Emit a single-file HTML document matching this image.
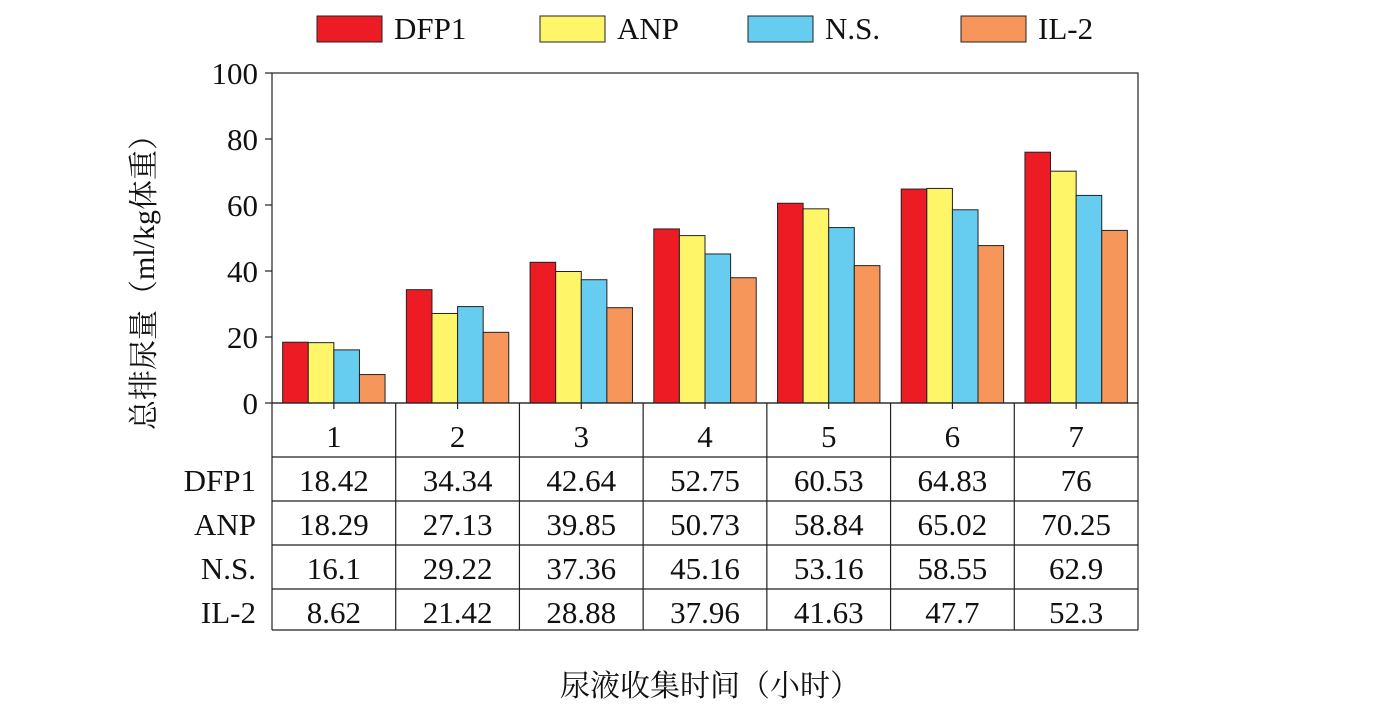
<!DOCTYPE html>
<html><head><meta charset="utf-8"><style>
body{margin:0;background:#fff;}
svg{display:block;font-family:"Liberation Serif","Noto Serif CJK SC",serif;}
</style></head><body>
<svg id="c" width="1396" height="724"></svg>
<script>
const categories=["1","2","3","4","5","6","7"];
const seriesNames=["DFP1","ANP","N.S.","IL-2"];
const dfp1=[18.42,34.34,42.64,52.75,60.53,64.83,76];
const anp=[18.29,27.13,39.85,50.73,58.84,65.02,70.25];
const ns=[16.1,29.22,37.36,45.16,53.16,58.55,62.9];
const il2=[8.62,21.42,28.88,37.96,41.63,47.7,52.3];
const yTicks=[0,20,40,60,80,100];
const colors=["#ed1c24","#fff568","#66ccf0","#f7965a"];
const series=[dfp1,anp,ns,il2];
const svg=document.getElementById('c');
const NS='http://www.w3.org/2000/svg';
function mk(t,a,p){const e=document.createElementNS(NS,t);for(const k in a)e.setAttribute(k,a[k]);(p||svg).appendChild(e);return e;}
const X0=272,X1=1138,Y0=403,Y1=73;
const y=v=>Y0-(v/100)*(Y0-Y1);
const gw=(X1-X0)/categories.length;
const gx=i=>X0+i*gw;
const bw=25.6,pad=(gw-4*bw)/2;
// bars
categories.forEach((c,i)=>{series.forEach((s,j)=>{
 const r=mk('rect',{x:gx(i)+pad+j*bw,y:y(s[i]),width:bw,height:Y0-y(s[i]),fill:colors[j],stroke:'#222','stroke-width':1});
 
 
});});
// frame
const fr=mk('rect',{x:X0,y:Y1,width:X1-X0,height:Y0-Y1,fill:'none',stroke:'#222','stroke-width':1.2});

// y ticks
yTicks.forEach(t=>{
 mk('line',{x1:X0-7,x2:X0,y1:y(t),y2:y(t),stroke:'#222','stroke-width':1.2});
 const tx=mk('text',{x:258,y:y(t)+11,'text-anchor':'end','font-size':31,fill:'#111'});
 tx.textContent=t;
 
});
// table
const rows=[403,457,501,545,589,630];
for(let i=0;i<=categories.length;i++){mk('line',{x1:gx(i),x2:gx(i),y1:403,y2:630,stroke:'#222','stroke-width':1.2});}
rows.forEach(r=>mk('line',{x1:X0,x2:X1,y1:r,y2:r,stroke:'#222','stroke-width':1.2}));
categories.forEach((c,i)=>{
 mk('line',{x1:gx(i)+gw/2,x2:gx(i)+gw/2,y1:403,y2:409,stroke:'#222','stroke-width':1.2});
 const t=mk('text',{x:gx(i)+gw/2,y:447,'text-anchor':'middle','font-size':31,fill:'#111'});t.textContent=c;
 
 series.forEach((s,j)=>{
  const v=mk('text',{x:gx(i)+gw/2,y:rows[j+1]+34,'text-anchor':'middle','font-size':31,fill:'#111'});v.textContent=s[i];
  
 });
});
seriesNames.forEach((n,j)=>{
 const t=mk('text',{x:256,y:rows[j+1]+34,'text-anchor':'end','font-size':31,fill:'#111'});t.textContent=n;
 
});
// legend
const lx=[317,540,748,961];
seriesNames.forEach((n,j)=>{
 const r=mk('rect',{x:lx[j],y:16,width:65,height:26,fill:colors[j],stroke:'#222','stroke-width':1});
 
 const t=mk('text',{x:lx[j]+77,y:39,'font-size':31,fill:'#111'});t.textContent=n;
 
});
// titles
const yt=mk('text',{x:0,y:0,'text-anchor':'middle','font-size':30,fill:'#111',transform:'translate(154,275) rotate(-90)'});
yt.textContent='总排尿量（ml/kg体重）';

const xt=mk('text',{x:710,y:696,'text-anchor':'middle','font-size':30,fill:'#111'});
xt.textContent='尿液收集时间（小时）';

</script>
</body></html>
